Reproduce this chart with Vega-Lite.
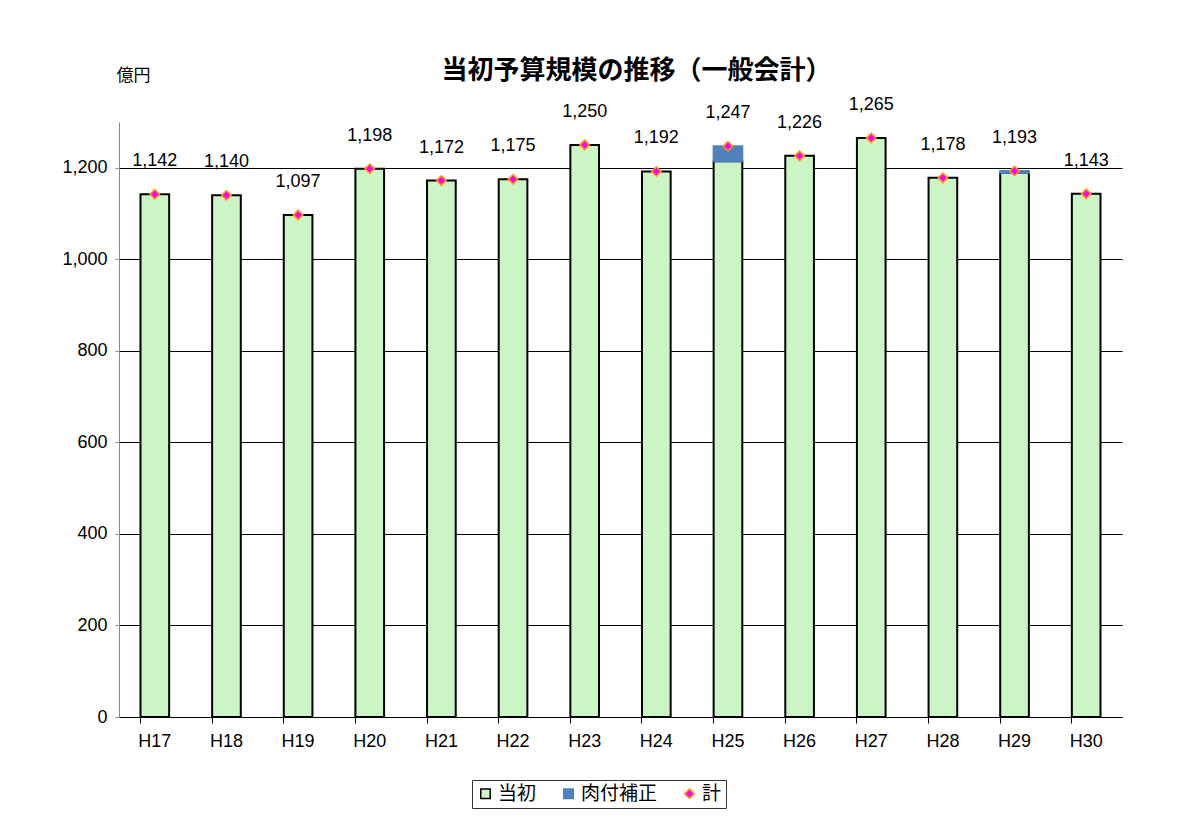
{
  "$schema": "https://vega.github.io/schema/vega-lite/v6.json",
  "width": 1003,
  "height": 595,
  "autosize": {"type": "none"},
  "padding": {"left": 119, "top": 122, "right": 65, "bottom": 100},
  "background": "white",
  "title": {
    "text": "当初予算規模の推移（一般会計）",
    "font": "Noto Sans CJK JP",
    "fontSize": 26,
    "fontWeight": "bold",
    "color": "black",
    "anchor": "middle",
    "dx": 16,
    "offset": -18
  },
  "datasets": {
    "bars": [
      {"year": "H17", "series": "当初", "value": 1142},
      {"year": "H18", "series": "当初", "value": 1140},
      {"year": "H19", "series": "当初", "value": 1097},
      {"year": "H20", "series": "当初", "value": 1198},
      {"year": "H21", "series": "当初", "value": 1172},
      {"year": "H22", "series": "当初", "value": 1175},
      {"year": "H23", "series": "当初", "value": 1250},
      {"year": "H24", "series": "当初", "value": 1192},
      {"year": "H25", "series": "当初", "value": 1214},
      {"year": "H25", "series": "肉付補正", "value": 33},
      {"year": "H26", "series": "当初", "value": 1226},
      {"year": "H27", "series": "当初", "value": 1265},
      {"year": "H28", "series": "当初", "value": 1178},
      {"year": "H29", "series": "当初", "value": 1189},
      {"year": "H29", "series": "肉付補正", "value": 4},
      {"year": "H30", "series": "当初", "value": 1143}
    ],
    "totals": [
      {"year": "H17", "series": "計", "total": 1142},
      {"year": "H18", "series": "計", "total": 1140},
      {"year": "H19", "series": "計", "total": 1097},
      {"year": "H20", "series": "計", "total": 1198},
      {"year": "H21", "series": "計", "total": 1172},
      {"year": "H22", "series": "計", "total": 1175},
      {"year": "H23", "series": "計", "total": 1250},
      {"year": "H24", "series": "計", "total": 1192},
      {"year": "H25", "series": "計", "total": 1247},
      {"year": "H26", "series": "計", "total": 1226},
      {"year": "H27", "series": "計", "total": 1265},
      {"year": "H28", "series": "計", "total": 1178},
      {"year": "H29", "series": "計", "total": 1193},
      {"year": "H30", "series": "計", "total": 1143}
    ]
  },
  "encoding": {
    "x": {
      "field": "year",
      "type": "nominal",
      "sort": null,
      "scale": {"paddingInner": 0.6, "paddingOuter": 0.3},
      "axis": {
        "title": null,
        "labelAngle": 0,
        "labelFont": "Liberation Sans",
        "labelFontSize": 18,
        "labelColor": "black",
        "labelPadding": 9,
        "domainColor": "black",
        "domainWidth": 1,
        "tickColor": "black",
        "tickSize": 6,
        "bandPosition": 0,
        "grid": false
      }
    }
  },
  "layer": [
    {
      "data": {"name": "bars"},
      "mark": {"type": "bar", "strokeWidth": 2},
      "encoding": {
        "y": {
          "field": "value",
          "type": "quantitative",
          "aggregate": "sum",
          "stack": "zero",
          "scale": {"domain": [0, 1300], "nice": false},
          "axis": {
            "values": [0, 200, 400, 600, 800, 1000, 1200],
            "format": ",d",
            "title": "億円",
            "titleAngle": 0,
            "titleFont": "Noto Sans CJK JP",
            "titleFontSize": 17,
            "titleFontWeight": "normal",
            "titleColor": "black",
            "titleX": 14,
            "titleY": -47,
            "titleAlign": "center",
            "titleBaseline": "middle",
            "labelFont": "Liberation Sans",
            "labelFontSize": 18,
            "labelColor": "black",
            "labelPadding": 8,
            "domainColor": "#888888",
            "tickColor": "#888888",
            "tickSize": 4,
            "grid": true,
            "gridColor": "black",
            "gridWidth": 1
          }
        },
        "color": {
          "field": "series",
          "type": "nominal",
          "scale": {
            "domain": ["当初", "肉付補正", "計"],
            "range": ["#ccf5c6", "#4f81bd", "#ff00ff"]
          },
          "legend": {
            "title": null,
            "orient": "none",
            "legendX": 353,
            "legendY": 658,
            "direction": "horizontal",
            "strokeColor": "#333333",
            "padding": 4,
            "labelFont": "Noto Sans CJK JP",
            "labelFontSize": 19,
            "labelColor": "black",
            "labelOffset": 3,
            "symbolSize": 90,
            "columnPadding": 22,
            "symbolStrokeWidth": 1.5
          }
        },
        "stroke": {
          "field": "series",
          "type": "nominal",
          "scale": {
            "domain": ["当初", "肉付補正", "計"],
            "range": ["black", "#4f81bd", "#ff9900"]
          },
          "legend": {
            "title": null,
            "orient": "none",
            "legendX": 353,
            "legendY": 658,
            "direction": "horizontal",
            "strokeColor": "#333333",
            "padding": 4,
            "labelFont": "Noto Sans CJK JP",
            "labelFontSize": 19,
            "labelColor": "black",
            "labelOffset": 3,
            "symbolSize": 90,
            "columnPadding": 22,
            "symbolStrokeWidth": 1.5
          }
        },
        "order": {"field": "series", "type": "nominal"}
      }
    },
    {
      "data": {"name": "totals"},
      "mark": {"type": "point", "filled": true, "size": 90, "strokeWidth": 1.5, "opacity": 1},
      "encoding": {
        "y": {"field": "total", "type": "quantitative"},
        "color": {"field": "series", "type": "nominal"},
        "stroke": {"field": "series", "type": "nominal"},
        "shape": {
          "field": "series",
          "type": "nominal",
          "scale": {"domain": ["当初", "肉付補正", "計"], "range": ["square", "square", "diamond"]},
          "legend": {
            "title": null,
            "orient": "none",
            "legendX": 353,
            "legendY": 658,
            "direction": "horizontal",
            "strokeColor": "#333333",
            "padding": 4,
            "labelFont": "Noto Sans CJK JP",
            "labelFontSize": 19,
            "labelColor": "black",
            "labelOffset": 3,
            "symbolSize": 90,
            "columnPadding": 22,
            "symbolStrokeWidth": 1.5
          }
        }
      }
    },
    {
      "data": {"name": "totals"},
      "mark": {"type": "text", "dy": -33, "font": "Liberation Sans", "fontSize": 18, "color": "black", "baseline": "middle"},
      "encoding": {
        "y": {"field": "total", "type": "quantitative"},
        "text": {"field": "total", "type": "quantitative", "format": ",d"}
      }
    }
  ],
  "config": {
    "view": {"stroke": null}
  }
}
